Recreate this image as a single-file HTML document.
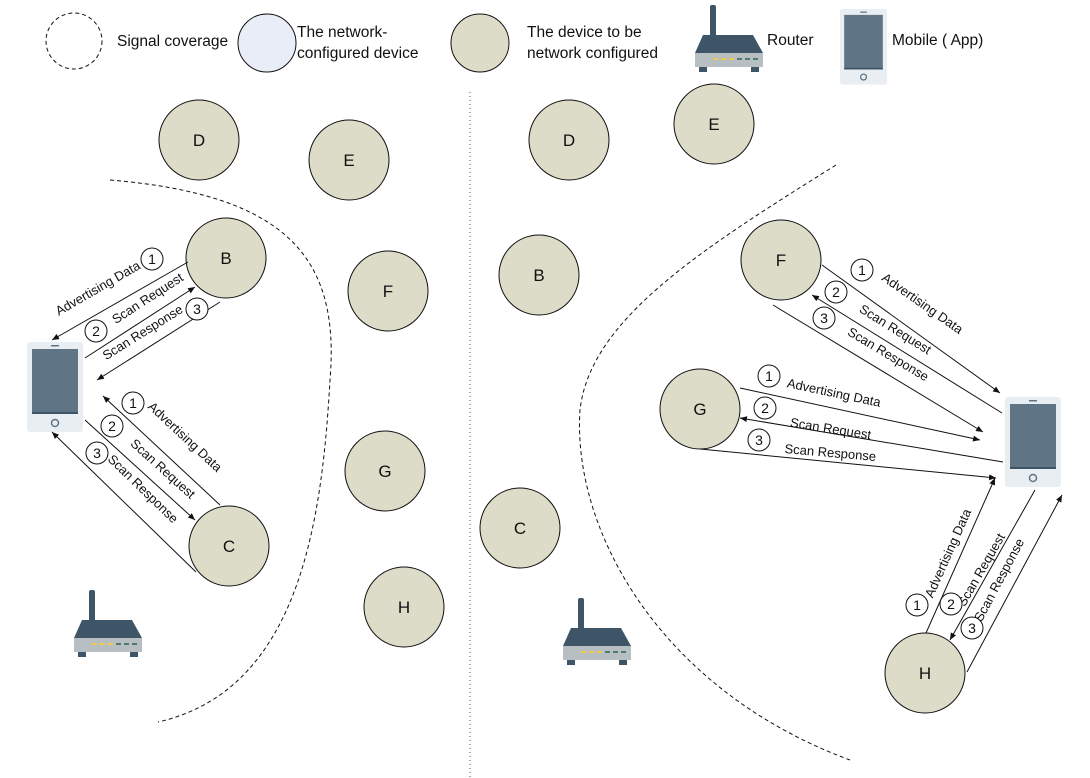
<!DOCTYPE html>
<html><head><meta charset="utf-8"><style>
html,body{margin:0;padding:0;background:#fff;}
svg{display:block;font-family:"Liberation Sans",Arial,sans-serif;}
.lbl{font-size:13px;fill:#111;}
.leg{font-size:15.5px;fill:#111;}
.num{font-size:14px;fill:#111;}
</style></head><body>
<svg id="d" width="1090" height="778" viewBox="0 0 1090 778" xmlns="http://www.w3.org/2000/svg">
<defs>
<marker id="ah" markerWidth="8" markerHeight="8" refX="7" refY="3" orient="auto" markerUnits="userSpaceOnUse"><path d="M0,0 L7,3 L0,6 Z" fill="#111"/></marker>
<g id="router">
<rect x="15" y="0" width="6" height="32" rx="2" fill="#3d5566"/>
<path d="M8,30 L58,30 L68,48 L0,48 Z" fill="#3d5566"/>
<rect x="0" y="48" width="68" height="14" fill="#b8bfc3"/>
<rect x="18" y="53" width="5" height="2" fill="#f2c94c"/><rect x="26" y="53" width="5" height="2" fill="#f2c94c"/><rect x="34" y="53" width="5" height="2" fill="#f2c94c"/>
<rect x="42" y="53" width="5" height="2" fill="#4f7a6a"/><rect x="50" y="53" width="5" height="2" fill="#4f7a6a"/><rect x="58" y="53" width="5" height="2" fill="#4f7a6a"/>
<rect x="4" y="62" width="8" height="5" fill="#3d5566"/><rect x="56" y="62" width="8" height="5" fill="#3d5566"/>
</g>
<g id="phone">
<rect x="0" y="0" width="56" height="90" rx="3" fill="#e9eef2"/>
<rect x="5" y="7" width="46" height="65" fill="#5f7484"/>
<rect x="5" y="70" width="46" height="2" fill="#3d5566"/>
<rect x="24" y="3" width="8" height="1.5" fill="#5f7484"/>
<circle cx="28" cy="81" r="3.5" fill="none" stroke="#5f7484" stroke-width="1.5"/>
</g>
</defs>

<g>
<circle cx="74" cy="41" r="28" fill="none" stroke="#111" stroke-dasharray="4,3"/>
<text x="117" y="46" class="leg">Signal coverage</text>
<circle cx="267" cy="43" r="29" fill="#e8edf7" stroke="#111"/>
<text x="297" y="37" class="leg"><tspan x="297">The network-</tspan><tspan x="297" dy="21">configured device</tspan></text>
<circle cx="480" cy="43" r="29" fill="#dcdcc8" stroke="#111"/>
<text x="527" y="37" class="leg"><tspan x="527">The device to be</tspan><tspan x="527" dy="21">network configured</tspan></text>
<use href="#router" x="695" y="5"/>
<text x="767" y="45" class="leg">Router</text>
<use href="#phone" x="840" y="9" transform="translate(840,9) scale(0.84) translate(-840,-9)"/>
<text x="892" y="45" class="leg">Mobile ( App)</text>
</g>

<line x1="470" y1="92" x2="470" y2="778" stroke="#555" stroke-dasharray="1,3"/>

<path d="M110,180 C290,195 340,260 330,380 C322,520 300,690 158,722" fill="none" stroke="#111" stroke-dasharray="4,3"/>
<path d="M836,165 C700,250 590,320 580,410 C572,530 660,690 850,760" fill="none" stroke="#111" stroke-dasharray="4,3"/>

<g id="nodes"></g>

<use href="#phone" x="27" y="342"/>
<use href="#phone" x="1005" y="397"/>
<use href="#router" x="74" y="590"/>
<use href="#router" x="563" y="598"/>

<g stroke="#111" stroke-width="1" fill="none">
<line x1="188" y1="262" x2="52" y2="340" marker-end="url(#ah)"/>
<line x1="85" y1="358" x2="195" y2="287" marker-end="url(#ah)"/>
<line x1="220" y1="302" x2="97" y2="380" marker-end="url(#ah)"/>
<line x1="220" y1="505" x2="103" y2="396" marker-end="url(#ah)"/>
<line x1="85" y1="420" x2="195" y2="520" marker-end="url(#ah)"/>
<line x1="196" y1="572" x2="52" y2="432" marker-end="url(#ah)"/>
<line x1="822" y1="265" x2="1000" y2="393" marker-end="url(#ah)"/>
<line x1="1002" y1="413" x2="812" y2="295" marker-end="url(#ah)"/>
<line x1="773" y1="305" x2="983" y2="432" marker-end="url(#ah)"/>
<line x1="740" y1="388" x2="980" y2="440" marker-end="url(#ah)"/>
<line x1="1003" y1="462" x2="740" y2="418" marker-end="url(#ah)"/>
<line x1="700" y1="449" x2="996" y2="478" marker-end="url(#ah)"/>
<line x1="926" y1="633" x2="995" y2="478" marker-end="url(#ah)"/>
<line x1="1035" y1="490" x2="950" y2="640" marker-end="url(#ah)"/>
<line x1="967" y1="672" x2="1062" y2="495" marker-end="url(#ah)"/>
</g>

<g>
<text class="lbl" text-anchor="middle" transform="translate(100,292) rotate(-30)">Advertising Data</text>
<text class="lbl" text-anchor="middle" transform="translate(150,302) rotate(-33)">Scan Request</text>
<text class="lbl" text-anchor="middle" transform="translate(145,336) rotate(-32)">Scan Response</text>
<text class="lbl" text-anchor="middle" transform="translate(182,440) rotate(43)">Advertising Data</text>
<text class="lbl" text-anchor="middle" transform="translate(160,472) rotate(42)">Scan Request</text>
<text class="lbl" text-anchor="middle" transform="translate(140,492) rotate(44)">Scan Response</text>
<text class="lbl" text-anchor="middle" transform="translate(920,307) rotate(35)">Advertising Data</text>
<text class="lbl" text-anchor="middle" transform="translate(893,333) rotate(32)">Scan Request</text>
<text class="lbl" text-anchor="middle" transform="translate(886,358) rotate(31)">Scan Response</text>
<text class="lbl" text-anchor="middle" transform="translate(833,397) rotate(12)">Advertising Data</text>
<text class="lbl" text-anchor="middle" transform="translate(830,433) rotate(9)">Scan Request</text>
<text class="lbl" text-anchor="middle" transform="translate(830,457) rotate(5)">Scan Response</text>
<text class="lbl" text-anchor="middle" transform="translate(952,555) rotate(-66)">Advertising Data</text>
<text class="lbl" text-anchor="middle" transform="translate(985,572) rotate(-60)">Scan Request</text>
<text class="lbl" text-anchor="middle" transform="translate(1003,582) rotate(-62)">Scan Response</text>
</g>
<g id="nums"></g>
</svg>
<script>
var nodeLabels=["D","E","B","F","G","C","H","D","E","B","F","G","C","H"];
var nodeX=[199,349,226,388,385,229,404,569,714,539,781,700,520,925];
var nodeY=[140,160,258,291,471,546,607,140,124,275,260,409,528,673];
var stepLabels=["1","2","3","1","2","3","1","2","3","1","2","3","1","2","3"];
var stepX=[152,96,197,133,112,97,862,836,824,769,765,759,917,951,972];
var stepY=[259,331,309,403,426,453,270,292,318,376,408,440,605,604,628];
var NS="http://www.w3.org/2000/svg";
var g=document.getElementById('nodes');
for(var i=0;i<nodeLabels.length;i++){
  var c=document.createElementNS(NS,'circle');
  c.setAttribute('cx',nodeX[i]);c.setAttribute('cy',nodeY[i]);c.setAttribute('r',40);
  c.setAttribute('fill','#dcdcc8');c.setAttribute('stroke','#111');
  
  
  g.appendChild(c);
  var t=document.createElementNS(NS,'text');
  t.setAttribute('x',nodeX[i]);t.setAttribute('y',nodeY[i]+6);
  t.setAttribute('text-anchor','middle');t.setAttribute('font-size','17');t.setAttribute('fill','#111');
  t.textContent=nodeLabels[i];
  
  
  g.appendChild(t);
}
var n=document.getElementById('nums');
for(var j=0;j<stepLabels.length;j++){
  var cc=document.createElementNS(NS,'circle');
  cc.setAttribute('cx',stepX[j]);cc.setAttribute('cy',stepY[j]);cc.setAttribute('r',11);
  cc.setAttribute('fill','#fff');cc.setAttribute('stroke','#111');
  
  
  n.appendChild(cc);
  var tt=document.createElementNS(NS,'text');
  tt.setAttribute('x',stepX[j]);tt.setAttribute('y',stepY[j]+5);
  tt.setAttribute('text-anchor','middle');tt.setAttribute('class','num');
  tt.textContent=stepLabels[j];
  
  
  n.appendChild(tt);
}
</script>
</body></html>
